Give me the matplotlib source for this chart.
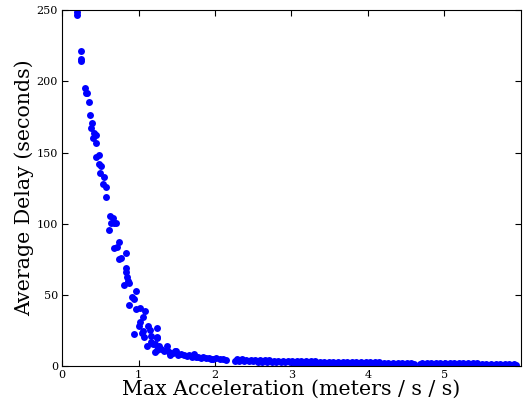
import numpy as np
from matplotlib import pyplot as plt

# steep part of the curve, read point by point
head_x = [0.19, 0.20, 0.25, 0.25, 0.25, 0.30, 0.31, 0.32, 0.35, 0.36,
          0.375, 0.39, 0.41, 0.42, 0.44, 0.44, 0.45, 0.48, 0.48, 0.50,
          0.51, 0.54, 0.545, 0.57, 0.575, 0.61, 0.63, 0.64, 0.66, 0.68,
          0.71, 0.68, 0.72, 0.74, 0.75, 0.77, 0.81, 0.83, 0.84, 0.84,
          0.845, 0.86, 0.88, 0.88, 0.92, 0.94, 0.945, 0.97, 0.97, 1.00,
          1.02, 1.02, 1.04, 1.055, 1.055, 1.076, 1.09, 1.107, 1.12, 1.15,
          1.16, 1.16, 1.19, 1.21, 1.215, 1.24, 1.24, 1.245, 1.245, 1.27,
          1.30, 1.33, 1.37, 1.37, 1.40, 1.41, 1.45, 1.48, 1.49, 1.52,
          1.55, 1.60, 1.63, 1.66, 1.70, 1.72, 1.75, 1.78, 1.82, 1.85,
          1.88, 1.92, 1.95, 1.98, 2.02, 2.06, 2.10, 2.14]
head_y = [249.0, 246.5, 221.4, 216.0, 214.4, 195.0, 192.0, 191.5, 185.4, 176.7,
          167.4, 171.0, 160.0, 163.8, 162.6, 156.9, 146.5, 148.0, 141.6, 135.7,
          140.4, 128.0, 133.0, 126.0, 119.0, 95.5, 105.3, 100.2, 104.3, 100.5,
          100.6, 83.2, 83.9, 75.4, 86.9, 76.1, 56.9, 66.2, 68.6, 79.6,
          62.7, 60.0, 58.0, 42.6, 48.2, 47.0, 22.2, 52.7, 40.2, 28.3,
          31.1, 40.4, 23.0, 34.6, 24.8, 20.6, 38.6, 14.3, 28.3, 25.3,
          21.3, 17.1, 15.5, 15.5, 10.0, 11.2, 20.0, 26.9, 20.2, 14.3,
          12.0, 10.5, 14.3, 11.0, 10.0, 7.7, 9.0, 10.8, 10.8, 8.0,
          8.5, 7.5, 7.0, 8.0, 6.5, 8.4, 6.0, 6.5, 5.8, 6.2,
          5.5, 5.5, 5.0, 5.2, 5.4, 4.8, 4.6, 4.5]

# flat tail, lower edge of the band
tail_x = [2.26, 2.32, 2.38, 2.44, 2.50, 2.56, 2.62, 2.68, 2.74, 2.80,
          2.86, 2.92, 2.98, 3.04, 3.10, 3.16, 3.22, 3.28, 3.34, 3.40,
          3.46, 3.52, 3.58, 3.64, 3.70, 3.76, 3.82, 3.88, 3.94, 4.00,
          4.06, 4.12, 4.18, 4.24, 4.30, 4.36, 4.42, 4.48, 4.54, 4.60,
          4.68, 4.74, 4.80, 4.86, 4.92, 4.98, 5.04, 5.10, 5.16, 5.22,
          5.28, 5.34, 5.40, 5.46, 5.52, 5.58, 5.64, 5.70, 5.76, 5.82,
          5.88, 5.94]
tail_y = [3.6, 3.4, 3.5, 3.2, 3.3, 3.0, 3.1, 2.8, 2.9, 2.7,
          2.8, 2.5, 2.6, 2.4, 2.4, 2.2, 2.3, 2.1, 2.2, 2.0,
          2.1, 1.9, 2.0, 1.8, 1.9, 1.7, 1.8, 1.6, 1.7, 1.5,
          1.6, 1.4, 1.5, 1.3, 1.4, 1.3, 1.2, 1.3, 1.1, 1.2,
          1.1, 1.2, 1.0, 1.1, 1.0, 1.1, 0.9, 1.0, 1.0, 0.9,
          1.0, 0.8, 0.9, 0.9, 0.8, 0.9, 0.8, 0.8, 0.7, 0.8,
          0.7, 0.8]

# flat tail, upper edge of the band
tail2_x = [2.29, 2.35, 2.41, 2.47, 2.53, 2.59, 2.65, 2.71, 2.77, 2.83,
           2.89, 2.95, 3.01, 3.07, 3.13, 3.19, 3.25, 3.31, 3.37, 3.43,
           3.49, 3.55, 3.61, 3.67, 3.73, 3.79, 3.85, 3.91, 3.97, 4.03,
           4.09, 4.15, 4.21, 4.27, 4.33, 4.39, 4.45, 4.51, 4.57,
           4.71, 4.77, 4.83, 4.89, 4.95, 5.01, 5.07, 5.13, 5.19, 5.25,
           5.31, 5.37, 5.43, 5.49, 5.55, 5.61, 5.67, 5.73, 5.79, 5.85,
           5.91]
tail2_y = [4.8, 4.6, 4.5, 4.4, 4.2, 4.2, 4.0, 4.0, 3.8, 3.8,
           3.7, 3.6, 3.5, 3.5, 3.4, 3.3, 3.3, 3.2, 3.1, 3.1,
           3.0, 3.0, 2.9, 2.9, 2.8, 2.8, 2.7, 2.7, 2.6, 2.6,
           2.5, 2.5, 2.4, 2.4, 2.4, 2.3, 2.3, 2.2, 2.2,
           2.1, 2.1, 2.1, 2.0, 2.0, 2.0, 1.9, 1.9, 1.9, 1.8,
           1.8, 1.8, 1.8, 1.7, 1.7, 1.7, 1.7, 1.6, 1.6, 1.6,
           1.6]

fig = plt.figure(figsize=(5.26, 4.08), dpi=100)
ax = fig.add_axes([0.118, 0.103, 0.872, 0.872])

xs = head_x + tail_x + tail2_x
ys = head_y + tail_y + tail2_y
ax.plot(xs, ys, 'o', color='#0000ff', markersize=5, markeredgewidth=0)

ax.set_xlim(0, 6)
ax.set_ylim(0, 250)
ax.set_xticks([0, 1, 2, 3, 4, 5])
ax.set_yticks([0, 50, 100, 150, 200, 250])
ax.tick_params(direction='in', top=True, right=True, labelsize=8, length=4, pad=3)
for lab in ax.get_xticklabels() + ax.get_yticklabels():
    lab.set_family('DejaVu Serif')

ax.set_xlabel('Max Acceleration (meters / s / s)', family='DejaVu Serif', fontsize=14.8, labelpad=0)
ax.set_ylabel('Average Delay (seconds)', family='DejaVu Serif', fontsize=14.8, labelpad=2)

fig.savefig('out.png', dpi=100)
